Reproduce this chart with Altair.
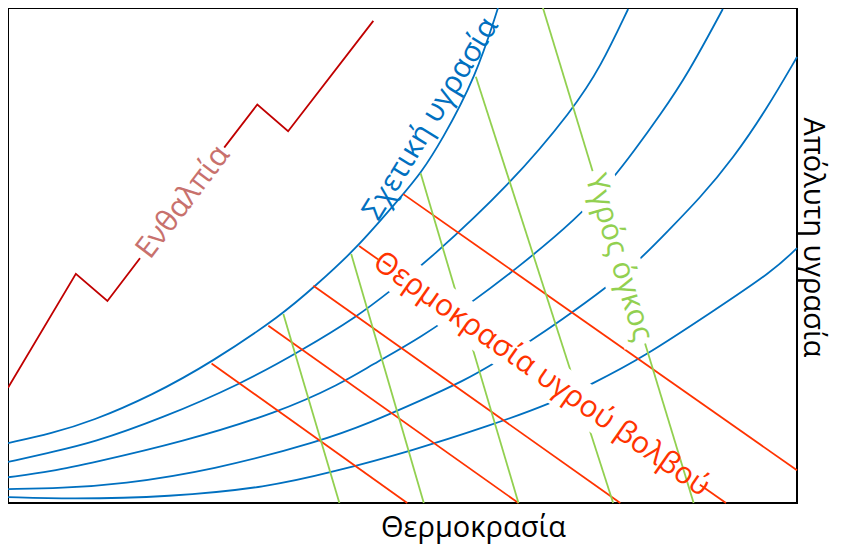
import altair as alt
import pandas as pd

# ---- relative-humidity curves: temperature (t) vs absolute humidity (w), arbitrary 0-100 units ----
rh1_t = [0, 5.6, 10.6, 18.2, 25.8, 34.9, 38.8, 43.9, 50.1, 52.3, 54.9, 59.3, 62.1]
rh1_w = [12.1, 14.1, 16.5, 21.7, 28.4, 38.2, 43.7, 50.9, 62.4, 66.6, 73.0, 86.1, 100.0]
rh2_t = [0, 5.6, 10.6, 19.5, 29.6, 37.2, 44.4, 48.5, 53.2, 63.7, 71.7, 75.1, 78.6]
rh2_w = [8.3, 10.3, 12.1, 17.1, 24.1, 30.8, 37.8, 42.9, 48.9, 64.4, 79.7, 88.1, 99.8]
rh3_t = [0, 5.6, 10.6, 22.0, 34.3, 42.2, 46.0, 52.3, 59.0, 64.1, 72.2, 76.7, 79.3, 82.7, 86.1, 90.6]
rh3_w = [5.2, 6.4, 8.1, 12.3, 18.3, 24.1, 27.8, 33.4, 40.8, 46.9, 57.5, 65.6, 71.0, 78.5, 86.5, 99.8]
rh4_t = [0, 6.8, 14.4, 25.8, 39.7, 46.0, 52.3, 57.8, 61.6, 66.3, 70.0, 75.7, 80.2, 83.6, 87.7, 91.9, 96.2, 100]
rh4_w = [2.8, 3.0, 3.8, 6.6, 12.5, 16.3, 20.7, 24.7, 28.2, 32.8, 36.8, 43.3, 49.3, 54.9, 61.6, 69.6, 79.7, 90.1]
rh5_t = [0, 7.7, 20.4, 33.0, 41.0, 51.1, 61.2, 68.8, 74.1, 80.5, 89.4, 97.0, 100]
rh5_w = [1.2, 0.8, 1.2, 3.2, 6.2, 10.5, 15.7, 20.1, 24.1, 29.4, 38.8, 46.9, 51.5]

# ---- wet-bulb temperature lines (start on saturation curve, end on frame) ----
wb_t0 = [25.8, 33.0, 38.7, 44.5, 50.1]
wb_w0 = [28.2, 35.8, 43.9, 51.9, 62.4]
wb_t1 = [50.6, 64.7, 77.6, 91.0, 100.0]
wb_w1 = [0.0, 0.0, 0.0, 0.0, 6.6]

# ---- specific volume lines ----
vol_t0 = [34.9, 43.5, 52.3, 59.3, 67.8]
vol_w0 = [38.2, 50.3, 66.6, 86.1, 100.0]
vol_t1 = [42.0, 52.7, 64.7, 76.7, 86.9]
vol_w1 = [0.0, 0.0, 0.0, 0.0, 0.0]

# ---- enthalpy zig-zag ----
h_t = [0, 8.6, 12.6, 27.4, 31.6, 35.5, 46.3]
h_w = [23.3, 46.3, 40.8, 71.8, 80.5, 75.1, 97.4]

# ---- in-chart labels ----
lab_text = ["Ενθαλπία", "Σχετική υγρασία", "Θερμοκρασία υγρού βολβού", "Υγρός όγκος"]
lab_t = [22.2, 53.6, 67.6, 77.4]
lab_w = [60.8, 77.6, 26.0, 49.6]
lab_angle = [307.4, 301.5, 35.0, 73.5]
# label backgrounds (segments along the labelled line)
bg_t0 = [16.7, 46.9, 74.0]
bg_w0 = [49.5, 49.2, 67.0]
bg_t1 = [27.4, 87.7, 80.7]
bg_w1 = [71.8, 3.7, 32.2]

BLUE = "#0070c0"
WB = "#ff3300"
GREEN = "#92d050"
DRED = "#c00000"
PINK = "#c8716d"
FONT = "Open Sans"
FS = 30
TFS = 29

rows = []
for cid, (ts, ws) in enumerate([(rh1_t, rh1_w), (rh2_t, rh2_w), (rh3_t, rh3_w),
                                (rh4_t, rh4_w), (rh5_t, rh5_w)]):
    for i, (t, w) in enumerate(zip(ts, ws)):
        rows.append({"curve": cid, "i": i, "t": t, "w": w})
rh_df = pd.DataFrame(rows)

wb_df = pd.DataFrame({"t": wb_t0, "w": wb_w0, "t2": wb_t1, "w2": wb_w1})
vol_df = pd.DataFrame({"t": vol_t0, "w": vol_w0, "t2": vol_t1, "w2": vol_w1})
h_df = pd.DataFrame({"t": h_t, "w": h_w, "i": list(range(len(h_t)))})
bg_df = pd.DataFrame({"t": bg_t0, "w": bg_w0, "t2": bg_t1, "w2": bg_w1,
                      "sw": [28, 40, 42]})

xs = alt.Scale(domain=[0, 100], nice=False, zero=False)
ys = alt.Scale(domain=[0, 100], nice=False, zero=False)

X = alt.X("t:Q", scale=xs, axis=alt.Axis(
    labels=False, ticks=False, domain=False, grid=False,
    title="Θερμοκρασία", titleFont=FONT, titleFontSize=TFS, titleFontWeight="normal",
    titleColor="black", titleX=465, titleY=24, titleAlign="center", titleBaseline="middle"))
Y = alt.Y("w:Q", scale=ys, axis=alt.Axis(
    orient="right", labels=False, ticks=False, domain=False, grid=False,
    title="Απόλυτη υγρασία", titleFont=FONT, titleFontSize=TFS, titleFontWeight="normal",
    titleColor="black", titleAngle=90, titleX=15, titleY=229,
    titleAlign="center", titleBaseline="middle"))

curves = alt.Chart(rh_df).mark_line(color=BLUE, strokeWidth=1.8, interpolate="basis").encode(
    x=X, y=Y, detail="curve:N", order="i:Q")

wb_lines = alt.Chart(wb_df).mark_rule(color=WB, strokeWidth=1.8).encode(
    x=alt.X("t:Q", scale=xs), y=alt.Y("w:Q", scale=ys), x2="t2:Q", y2="w2:Q")

vol_main = alt.Chart(vol_df.iloc[:4]).mark_rule(color=GREEN, strokeWidth=1.8).encode(
    x=alt.X("t:Q", scale=xs), y=alt.Y("w:Q", scale=ys), x2="t2:Q", y2="w2:Q")
vol_last = alt.Chart(vol_df.iloc[4:]).mark_rule(color=GREEN, strokeWidth=1.8).encode(
    x=alt.X("t:Q", scale=xs), y=alt.Y("w:Q", scale=ys), x2="t2:Q", y2="w2:Q")

def bg(idx):
    d = bg_df.iloc[idx:idx + 1]
    return alt.Chart(d).mark_rule(color="white", strokeWidth=int(d["sw"].iloc[0]),
                                  strokeCap="butt").encode(
        x=alt.X("t:Q", scale=xs), y=alt.Y("w:Q", scale=ys), x2="t2:Q", y2="w2:Q")

enth = alt.Chart(h_df).mark_line(color=DRED, strokeWidth=1.8).encode(
    x=alt.X("t:Q", scale=xs), y=alt.Y("w:Q", scale=ys), order="i:Q")

def label(idx, color):
    d = pd.DataFrame({"t": [lab_t[idx]], "w": [lab_w[idx]], "s": [lab_text[idx]]})
    return alt.Chart(d).mark_text(font=FONT, fontSize=FS, color=color, angle=lab_angle[idx],
                                  align="center", baseline="middle").encode(
        x=alt.X("t:Q", scale=xs), y=alt.Y("w:Q", scale=ys), text="s:N")

chart = alt.layer(
    curves, wb_lines, vol_main, bg(1), vol_last, bg(2), enth, bg(0),
    label(0, PINK), label(1, BLUE), label(2, WB), label(3, GREEN)
).properties(
    width=789, height=495,
    autosize=alt.AutoSizeParams(type="none"),
    padding={"left": 0, "top": 0, "right": 37, "bottom": 43}
).configure_view(stroke="black", strokeWidth=2)

chart.save("out.html", embed_options={"renderer": "svg", "actions": False})
